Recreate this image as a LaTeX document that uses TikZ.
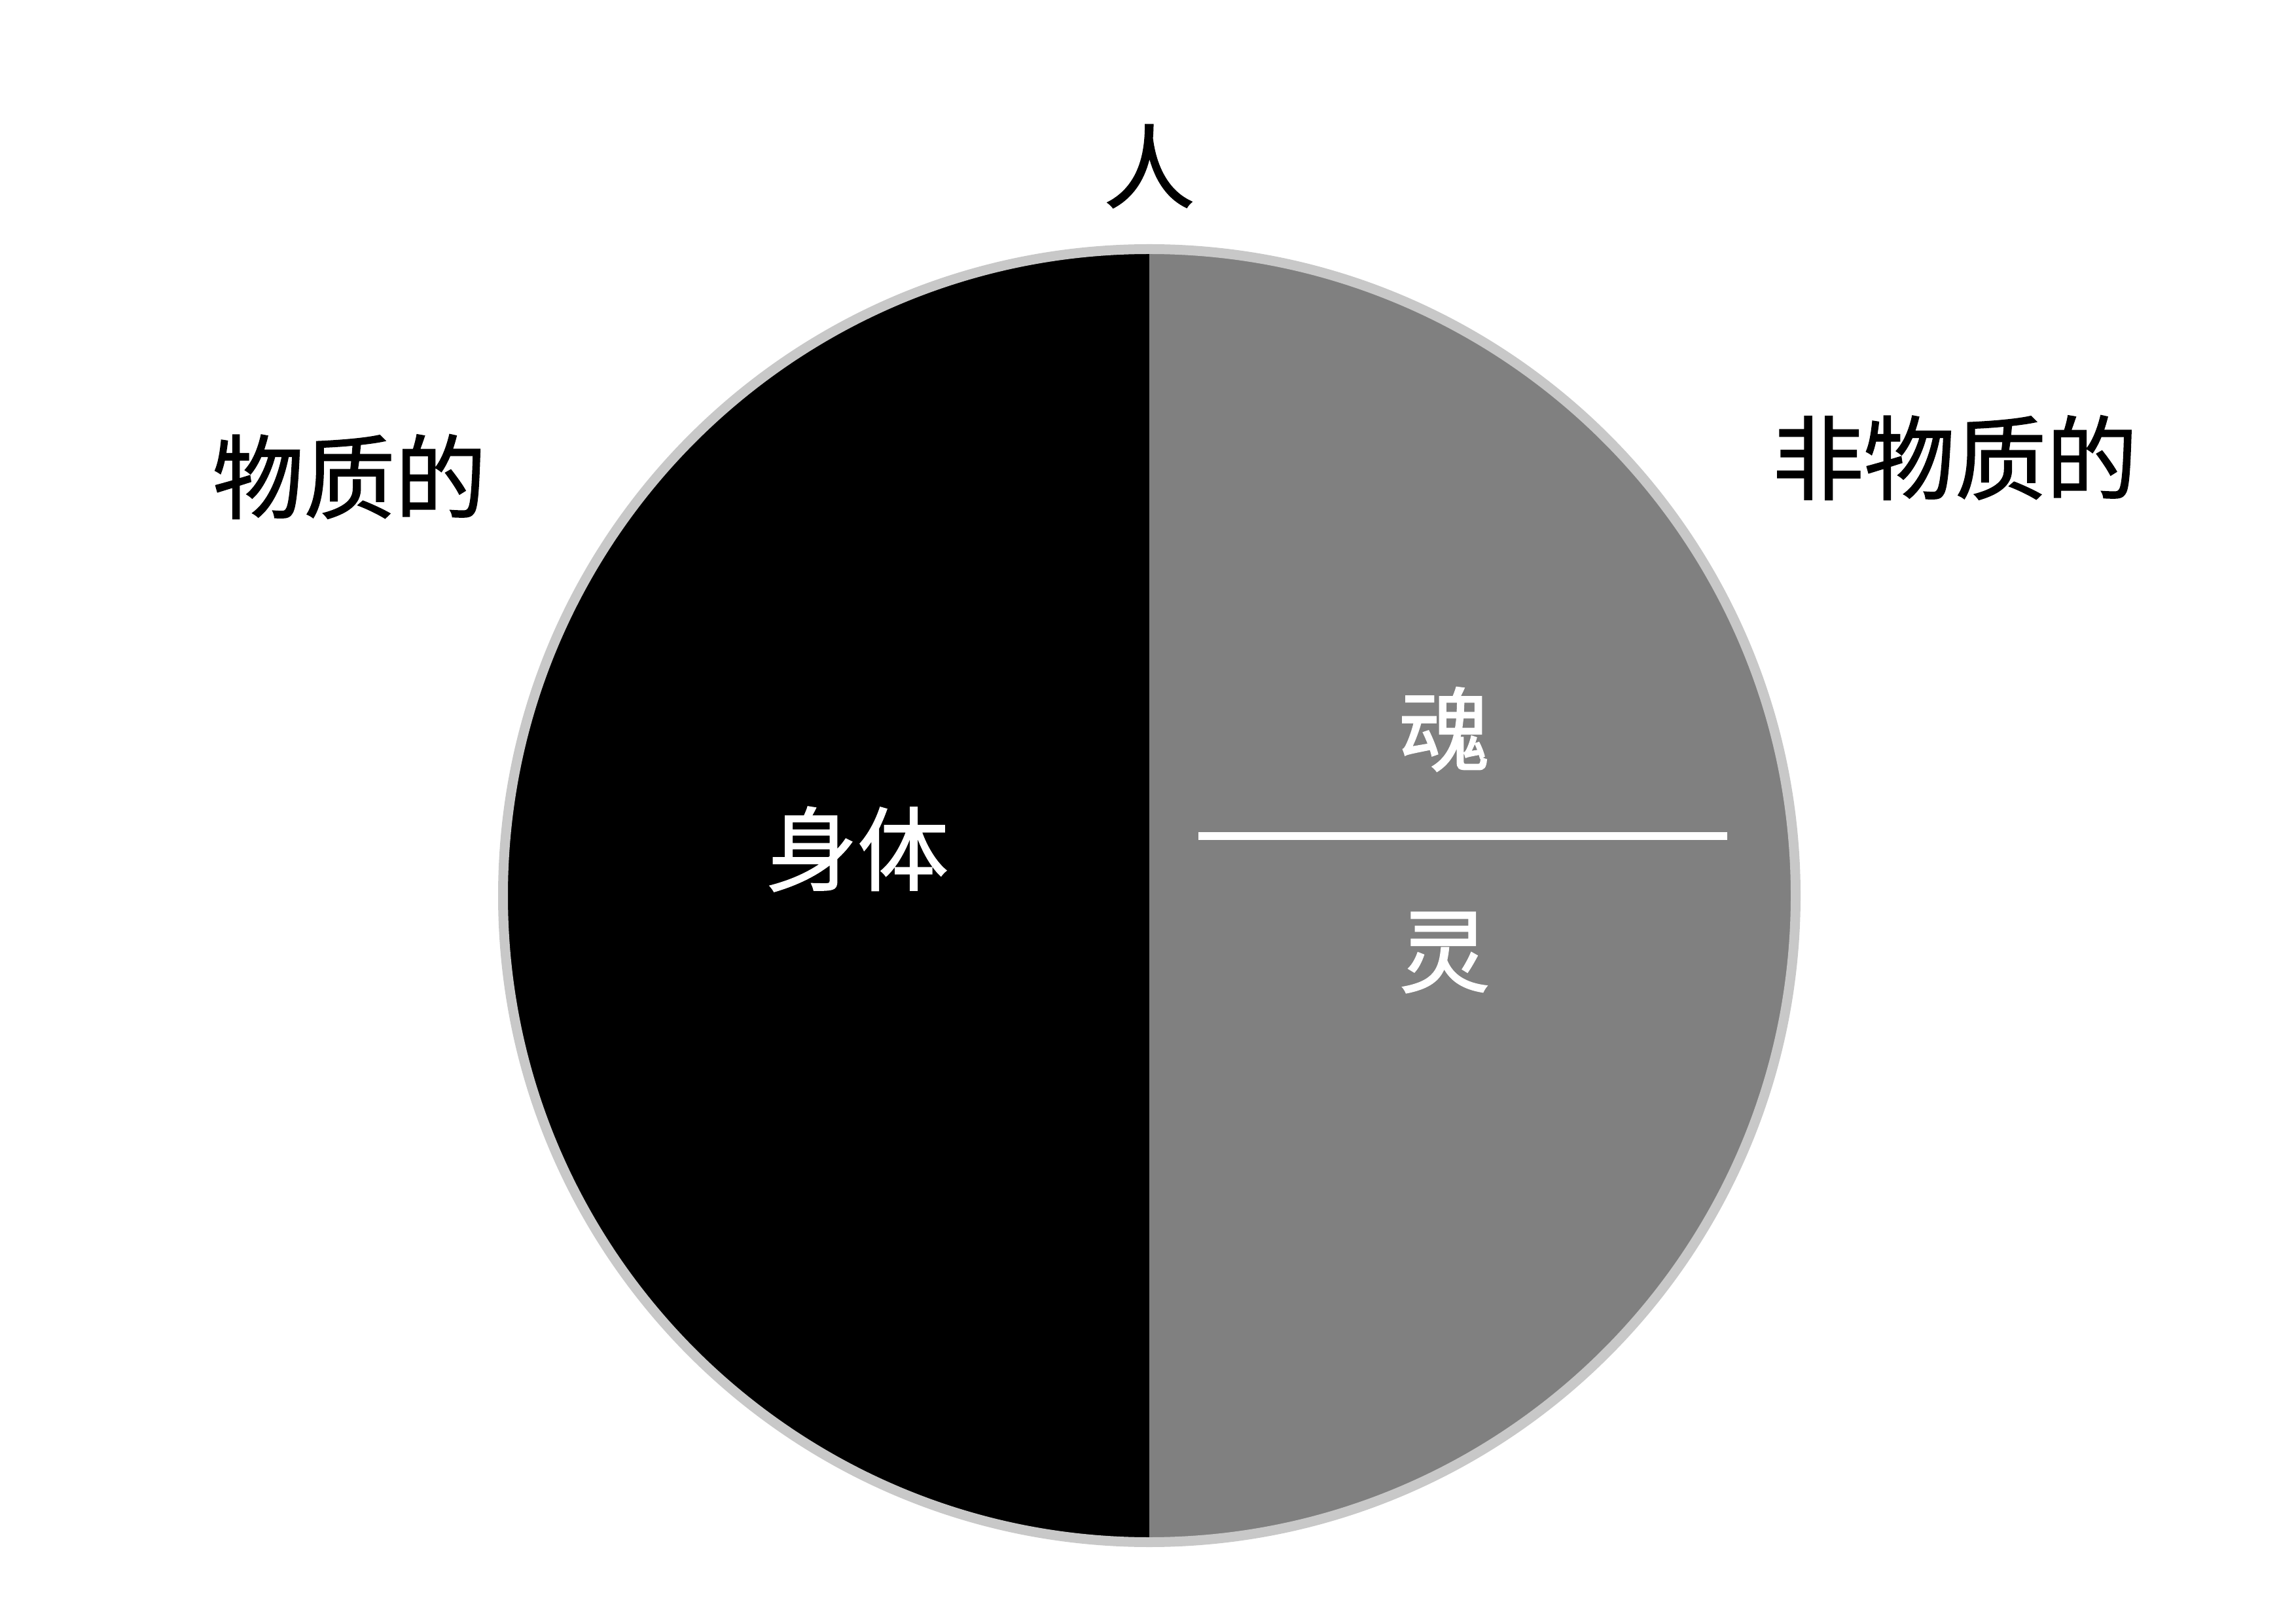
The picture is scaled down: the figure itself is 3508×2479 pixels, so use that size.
\documentclass[tikz,border=0pt]{standalone}
\usepackage{fontspec}
\newfontfamily\cjk{Noto Sans CJK SC}[FakeBold=1.2]
\usetikzlibrary{positioning}
\definecolor{RingGrey}{RGB}{200, 200, 200}
\definecolor{SoulGrey}{RGB}{128, 128, 128}

\begin{document}
\begin{tikzpicture}[x=0.0846667mm, y=-0.0846667mm,
    label/.style={font=\cjk\fontsize{33.6}{40}\selectfont, inner sep=0pt}]
    \useasboundingbox (0,0) rectangle (3508,2479);
    \coordinate (centre) at (1756,1368);

    % Cuerpo (mitad izquierda)
    \fill[black] (1756,380.5) arc[start angle=270, end angle=90, radius=987.5] -- cycle;
    % Alma y espiritu (mitad derecha)
    \fill[SoulGrey] (1756,380.5) arc[start angle=270, end angle=450, radius=987.5] -- cycle;
    % Borde
    \draw[RingGrey, line width=1.27mm] (centre) circle[radius=987.5];

    % Separador
    \coordinate (sepL) at (1831,1277);
    \coordinate (sepR) at (2639,1277);
    \draw[white, line width=1.02mm] (sepL) -- (sepR);

    % Etiquetas
    \node[label] (person) at (1756,254) {人};
    \node[label] (material) at (534,728) {物质的};
    \node[label] (immaterial) at (2987,699) {非物质的};
    \node[label, white] (body) at (1310,1297) {身体};
    \node[label, white] (soul) at (2207,1114) {魂};
    \node[label, white] (spirit) at (2207,1455) {灵};
\end{tikzpicture}
\end{document}
